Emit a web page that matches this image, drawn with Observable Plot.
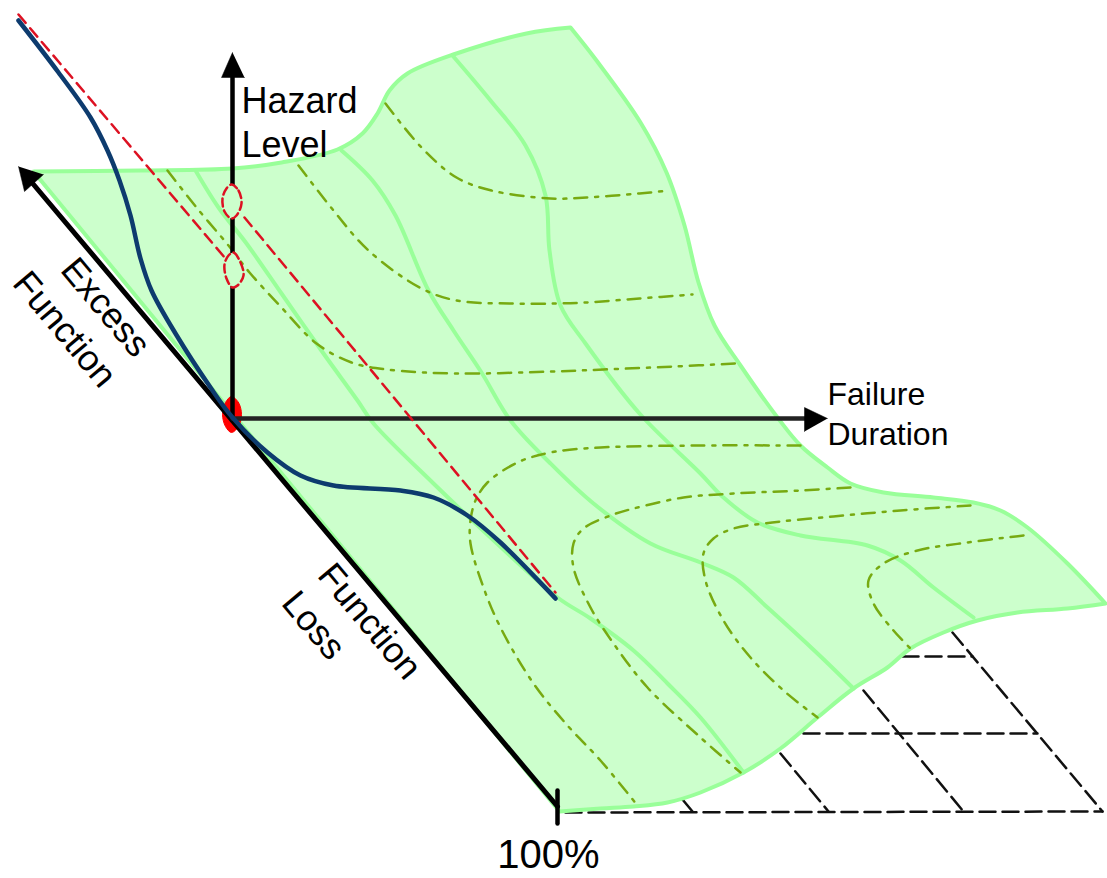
<!DOCTYPE html>
<html>
<head>
<meta charset="utf-8">
<style>html,body{margin:0;padding:0;background:#fff}svg{display:block}</style>
<script src="https://cdn.jsdelivr.net/npm/d3@7"></script>
<script src="https://cdn.jsdelivr.net/npm/@observablehq/plot@0.6"></script>
</head>
<body>
<script>
const surfaceOutline = [[33,171],[33,171],[140,170],[232,168],[281,162],[337,149],[362,133],[377,113],[389,90],[407,73],[456,53],[526,33],[570,27],[570,27],[596,60],[640,122],[666,172],[684,225],[698,282],[714,325],[740,365],[777,417],[800,445],[827,467],[850,483],[883,492],[933,497],[973,502],[1000,510],[1027,527],[1067,563],[1105,603],[1105,603],[1067,608],[1017,612],[977,620],[943,632],[910,648],[887,667],[853,688],[817,717],[780,748],[743,772],[700,792],[667,802],[633,806],[600,808],[559,811],[559,811],[33,171]];

const greenLines = [
  [[452,55],[490,100],[525,145],[545,195],[549,250],[560,305],[585,343],[639,413],[700,473],[723,497],[757,522],[800,535],[867,545],[900,560],[933,587],[973,617]],
  [[341,150],[372,180],[395,215],[428,290],[453,330],[481,372],[510,420],[550,463],[593,503],[650,543],[700,562],[733,577],[767,607],[817,653],[853,688]],
  [[195,170],[218,207],[246,243],[281,293],[323,353],[357,400],[373,423],[433,483],[490,537],[557,597],[590,618],[633,650],[667,683],[700,717],[743,772]]
];

const contourLines = [
  [[385,103],[421,147],[456,177],[491,190],[550,198],[586,197],[639,193],[669,190]],
  [[298,165],[333,210],[368,250],[421,288],[456,300],[509,303],[554,303],[585,302],[639,298],[692,294]],
  [[167,170],[196,207],[228,245],[249,272],[281,307],[316,343],[351,362],[386,369],[456,373],[550,371],[603,369],[674,366],[735,363]],
  [[800,445],[700,445],[600,447],[550,452],[517,462],[487,482],[475,500],[470,520],[470,543],[483,587],[500,627],[533,683],[567,725],[600,760],[637,805]],
  [[850,487],[800,490],[733,493],[683,497],[633,508],[610,515],[583,528],[573,543],[573,567],[590,607],[613,643],[647,687],[700,737],[740,772]],
  [[970,505],[900,510],[833,516],[763,523],[733,528],[713,538],[703,553],[705,580],[723,620],[750,657],[783,690],[817,717]],
  [[1023,535],[967,542],[917,550],[883,563],[868,580],[873,603],[893,630],[910,648]]
];

const floorGrid = [
  [[565,812],[1102,811]],
  [[682,799],[692,811]],
  [[780,753],[828,811]],
  [[863,690],[963,811]],
  [[952,632],[1102,811]],
  [[803,733],[1037,733]],
  [[902,656],[972,656]]
];

const axisLines = [
  [[557,806],[28,178]],
  [[232,420],[232,72]],
  [[232,418],[806,418]],
  [[557,790],[557,823]]
];
const arrowHeads = [
  [[232,52],[221,77],[244,77]],
  [[827,418],[804,407],[804,431]],
  [[18,166],[24,191],[43,174]]
];

const redDashed = [
  [[18,14],[225,258]],
  [[244,217],[555,592]]
];
const hazardRings = [
  [[231,184],[238,190],[241,203],[236,215],[231,218],[224,211],[222,198],[226,188]],
  [[233,252],[240,262],[243,275],[237,285],[232,287],[226,278],[224,264],[228,255]]
];
const originBlob = [[231,396],[238,402],[241,414],[238,426],[231,432],[225,426],[222,414],[225,402]];

const resilienceCurve = [[18,20],[58,72],[90,117],[107,150],[119,180],[130,215],[140,258],[151,290],[175,333],[210,387],[232,417],[267,452],[300,475],[333,485],[400,490],[433,497],[467,515],[500,542],[555,598]];

const labelText = ["Hazard","Level","Failure","Duration","100%","Excess","Function","Function","Loss"];
const labelX = [241,241,827,827,548,105,64,369,313];
const labelY = [101,145,394,434,855,307,329,621,625];
const labelSize = [36,36,32,32,40,36,36,36,36];
const labelRotate = [0,0,0,0,0,50,50,50,50];
const labelAnchor = ["start","start","start","start","middle","middle","middle","middle","middle"];

const px = d => d[0], py = d => d[1];
const path = (pts, o) => Plot.line(pts, {x: px, y: py, ...o});
const smooth = "catmull-rom";

const textMarks = labelText.map((t, i) => Plot.text([t], {
  x: [labelX[i]], y: [labelY[i]], text: d => d,
  fontSize: labelSize[i], rotate: labelRotate[i], textAnchor: labelAnchor[i],
  fill: "#000", lineAnchor: "middle"
}));

const chart = Plot.plot({
  width: 1107, height: 878, margin: 0,
  style: {fontFamily: "'Liberation Sans', Arial, sans-serif", background: "#fff"},
  x: {domain: [0, 1107], axis: null},
  y: {domain: [878, 0], axis: null},
  marks: [
    ...floorGrid.map(g => path(g, {stroke: "#111", strokeWidth: 2.5, strokeDasharray: "16,7"})),
    path(surfaceOutline, {fill: "#ccffcc", stroke: "#99ff99", strokeWidth: 4, curve: smooth}),
    ...greenLines.map(g => path(g, {stroke: "#99ff99", strokeWidth: 4, curve: smooth})),
    ...contourLines.map(g => path(g, {stroke: "#77aa11", strokeWidth: 2.5, strokeDasharray: "13,8,3,8", curve: smooth})),
    path(originBlob, {fill: "#ff0000", stroke: "#ff0000", strokeWidth: 1, curve: "catmull-rom-closed"}),
    ...axisLines.map((g, i) => path(g, {stroke: i === 2 ? "#222" : "#000", strokeWidth: i === 0 ? 5 : 4.5})),
    ...arrowHeads.map(g => path(g, {fill: "#000", stroke: "#000", strokeWidth: 0.5})),
    ...hazardRings.map(g => path(g, {fill: "#ccffcc", stroke: "#dd1122", strokeWidth: 2.5, strokeDasharray: "8,4", curve: "catmull-rom-closed"})),
    ...redDashed.map(g => path(g, {stroke: "#dd1122", strokeWidth: 2.5, strokeDasharray: "11,7"})),
    path(resilienceCurve, {stroke: "#0d3b6e", strokeWidth: 4.5, curve: smooth}),
    ...textMarks
  ]
});
document.body.appendChild(chart);
</script>
</body>
</html>
